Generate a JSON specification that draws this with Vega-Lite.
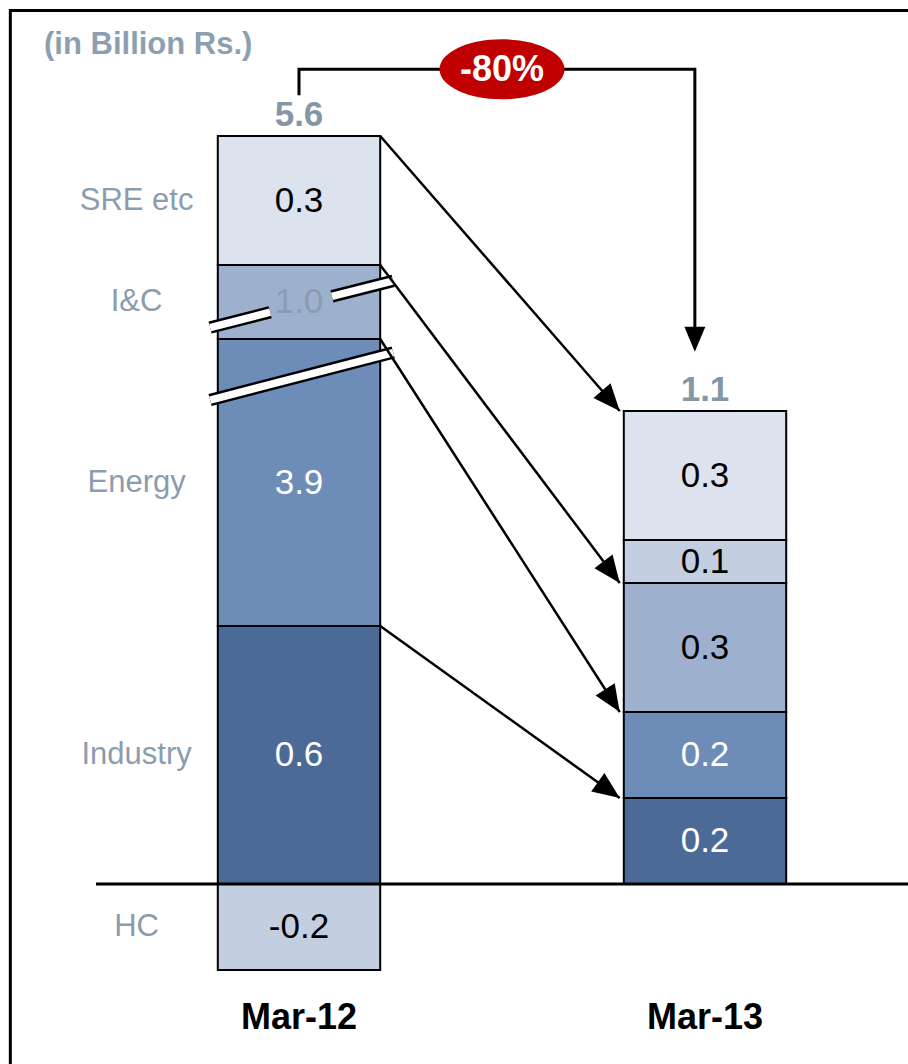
{
  "$schema": "https://vega.github.io/schema/vega-lite/v6.json",
  "width": 908,
  "height": 1064,
  "padding": 0,
  "autosize": {"type": "none"},
  "background": "white",
  "config": {"view": {"stroke": null}, "font": "Liberation Sans", "axis": {"disable": true}},
  "datasets": {
    "segments": [
      {"period": "Mar-12", "fy": 2012, "category": "Industry", "value": 0.6},
      {"period": "Mar-12", "fy": 2012, "category": "Energy", "value": 3.9},
      {"period": "Mar-12", "fy": 2012, "category": "I&C", "value": 1.0},
      {"period": "Mar-12", "fy": 2012, "category": "HC", "value": -0.2},
      {"period": "Mar-12", "fy": 2012, "category": "SRE etc", "value": 0.3},
      {"period": "Mar-13", "fy": 2013, "category": "Industry", "value": 0.2},
      {"period": "Mar-13", "fy": 2013, "category": "Energy", "value": 0.2},
      {"period": "Mar-13", "fy": 2013, "category": "I&C", "value": 0.3},
      {"period": "Mar-13", "fy": 2013, "category": "HC", "value": 0.1},
      {"period": "Mar-13", "fy": 2013, "category": "SRE etc", "value": 0.3}
    ],
    "breaks": [
      {"x1": 2011.781, "x2": 2011.929, "y1": 4.655, "y2": 4.862},
      {"x1": 2012.081, "x2": 2012.232, "y1": 5.076, "y2": 5.286},
      {"x1": 2011.781, "x2": 2012.232, "y1": 1.619, "y2": 3.862}
    ],
    "bracket": [
      {"step": 1, "x": 2012, "y": 5.895},
      {"step": 2, "x": 2012, "y": 5.955},
      {"step": 3, "x": 2012.975, "y": 5.955},
      {"step": 4, "x": 2012.975, "y": 4.3}
    ],
    "pointer": [{"x": 2012.975, "y": 3.9}],
    "badge": [{"x": 2012.5, "y": 5.955, "label": "-80%"}]
  },
  "layer": [
    {
      "data": {"values": [{}]},
      "mark": {"type": "rect", "fill": "transparent", "stroke": "black", "strokeWidth": 3},
      "encoding": {
        "x": {"datum": 2011.289, "type": "quantitative", "axis": null},
        "x2": {"datum": 2014},
        "y": {"datum": 6.092, "type": "quantitative", "axis": null},
        "y2": {"datum": -1}
      }
    },
    {
      "data": {"name": "segments"},
      "transform": [
        {"calculate": "indexof(['Industry','Energy','I&C','HC','SRE etc'], datum.category)", "as": "rank"},
        {"stack": "value", "groupby": ["fy"], "sort": [{"field": "rank", "order": "ascending"}], "as": ["v0", "v1"]},
        {"calculate": "datum.fy - 0.2", "as": "left"},
        {"calculate": "datum.fy + 0.2", "as": "right"}
      ],
      "mark": {"type": "rect", "stroke": "black", "strokeWidth": 2},
      "encoding": {
        "x": {"field": "left", "type": "quantitative", "scale": {"domain": [2011.5, 2013.5], "range": [96, 908], "nice": false, "zero": false}, "axis": null},
        "x2": {"field": "right"},
        "y": {"field": "v0", "type": "quantitative", "scale": {"domain": [-0.4, 0, 1.1, 4.5, 5.5, 6.1], "range": [1056, 884, 411, 339, 265, 7], "nice": false, "zero": false}, "axis": null},
        "y2": {"field": "v1"},
        "color": {
          "field": "category",
          "type": "nominal",
          "scale": {"domain": ["SRE etc", "I&C", "Energy", "Industry", "HC"], "range": ["#DCE3EE", "#9DB0CE", "#6D8DB8", "#4B6A98", "#C4CEE1"]},
          "legend": null
        }
      }
    },
    {
      "data": {"name": "breaks"},
      "mark": {"type": "rule", "color": "black", "strokeWidth": 12.5, "strokeCap": "butt"},
      "encoding": {
        "x": {"field": "x1", "type": "quantitative", "axis": null},
        "x2": {"field": "x2"},
        "y": {"field": "y1", "type": "quantitative", "axis": null},
        "y2": {"field": "y2"}
      }
    },
    {
      "data": {"name": "breaks"},
      "mark": {"type": "rule", "color": "white", "strokeWidth": 7.5, "strokeCap": "butt"},
      "encoding": {
        "x": {"field": "x1", "type": "quantitative", "axis": null},
        "x2": {"field": "x2"},
        "y": {"field": "y1", "type": "quantitative", "axis": null},
        "y2": {"field": "y2"}
      }
    },
    {
      "data": {"name": "segments"},
      "transform": [
        {"calculate": "indexof(['Industry','Energy','I&C','HC','SRE etc'], datum.category)", "as": "rank"},
        {"stack": "value", "groupby": ["fy"], "sort": [{"field": "rank", "order": "ascending"}], "as": ["v0", "v1"]},
        {"calculate": "invert('y', (scale('y', datum.v0) + scale('y', datum.v1)) / 2)", "as": "mid"},
        {"calculate": "replace(format(datum.value, '.1f'), '\u2212', '-')", "as": "label"}
      ],
      "mark": {"type": "text", "fontSize": 35, "align": "center", "baseline": "middle"},
      "encoding": {
        "x": {"field": "fy", "type": "quantitative", "axis": null},
        "y": {"field": "mid", "type": "quantitative", "axis": null},
        "text": {"field": "label"},
        "color": {
          "condition": [
            {"test": "datum.category === 'Energy' || datum.category === 'Industry'", "value": "white"},
            {"test": "datum.category === 'I&C' && datum.fy === 2012", "value": "#8A9CAE"}
          ],
          "value": "black"
        }
      }
    },
    {
      "data": {"name": "segments"},
      "transform": [
        {"calculate": "indexof(['Industry','Energy','I&C','HC','SRE etc'], datum.category)", "as": "rank"},
        {"stack": "value", "groupby": ["fy"], "sort": [{"field": "rank", "order": "ascending"}], "as": ["v0", "v1"]},
        {"filter": "datum.category !== 'HC'"},
        {"calculate": "datum.fy === 2012 ? datum.v1 : null", "as": "top12"},
        {"calculate": "datum.fy === 2013 ? datum.v1 : null", "as": "top13"},
        {"aggregate": [{"op": "max", "field": "top12", "as": "from"}, {"op": "max", "field": "top13", "as": "to"}], "groupby": ["category"]}
      ],
      "layer": [
        {
          "mark": {"type": "rule", "color": "black", "strokeWidth": 2.5},
          "encoding": {
            "x": {"datum": 2012.2, "type": "quantitative", "axis": null},
            "x2": {"datum": 2012.79},
            "y": {"field": "from", "type": "quantitative", "axis": null},
            "y2": {"field": "to"}
          }
        },
        {
          "mark": {
            "type": "point",
            "shape": "M0,0 L-1,-0.42 L-1,0.42 Z",
            "filled": true,
            "color": "black",
            "opacity": 1,
            "strokeWidth": 0,
            "size": 2916,
            "angle": {"expr": "atan2(scale('y', datum.to) - scale('y', datum.from), scale('x', 2012.79) - scale('x', 2012.2)) * 180 / PI"}
          },
          "encoding": {
            "x": {"datum": 2012.79, "type": "quantitative", "axis": null},
            "y": {"field": "to", "type": "quantitative", "axis": null}
          }
        }
      ]
    },
    {
      "data": {"values": [{}]},
      "mark": {"type": "rule", "color": "black", "strokeWidth": 3},
      "encoding": {
        "x": {"datum": 2011.5, "type": "quantitative", "axis": null},
        "x2": {"datum": 2013.6},
        "y": {"datum": 0, "type": "quantitative", "axis": null}
      }
    },
    {
      "data": {"name": "segments"},
      "transform": [
        {"filter": "datum.fy === 2012"},
        {"calculate": "indexof(['Industry','Energy','I&C','HC','SRE etc'], datum.category)", "as": "rank"},
        {"stack": "value", "groupby": ["fy"], "sort": [{"field": "rank", "order": "ascending"}], "as": ["v0", "v1"]},
        {"calculate": "invert('y', (scale('y', datum.v0) + scale('y', datum.v1)) / 2)", "as": "mid"}
      ],
      "mark": {"type": "text", "fontSize": 31, "align": "center", "baseline": "middle", "color": "#8A9CAE"},
      "encoding": {
        "x": {"datum": 2011.6, "type": "quantitative", "axis": null},
        "y": {"field": "mid", "type": "quantitative", "axis": null},
        "text": {"field": "category"}
      }
    },
    {
      "data": {"name": "segments"},
      "transform": [
        {"joinaggregate": [{"op": "sum", "field": "value", "as": "total"}], "groupby": ["fy"]},
        {"filter": "datum.value > 0"},
        {"aggregate": [{"op": "sum", "field": "value", "as": "top"}, {"op": "max", "field": "total", "as": "total"}], "groupby": ["fy", "period"]}
      ],
      "layer": [
        {
          "mark": {"type": "text", "fontSize": 35, "fontWeight": "bold", "align": "center", "baseline": "alphabetic", "dy": -10, "color": "#8497A9"},
          "encoding": {
            "x": {"field": "fy", "type": "quantitative", "axis": null},
            "y": {"field": "top", "type": "quantitative", "axis": null},
            "text": {"field": "total", "type": "quantitative", "format": ".1f"}
          }
        },
        {
          "mark": {"type": "text", "fontSize": 36, "fontWeight": "bold", "align": "center", "baseline": "alphabetic", "color": "black"},
          "encoding": {
            "x": {"field": "fy", "type": "quantitative", "axis": null},
            "y": {"datum": -0.337, "type": "quantitative", "axis": null},
            "text": {"field": "period"}
          }
        }
      ]
    },
    {
      "data": {"values": [{}]},
      "mark": {"type": "text", "text": "(in Billion Rs.)", "fontSize": 31, "fontWeight": "bold", "align": "left", "baseline": "alphabetic", "color": "#8C9FB1"},
      "encoding": {
        "x": {"datum": 2011.372, "type": "quantitative", "axis": null},
        "y": {"datum": 5.99, "type": "quantitative", "axis": null}
      }
    },
    {
      "data": {"name": "bracket"},
      "mark": {"type": "line", "color": "black", "strokeWidth": 3, "strokeJoin": "miter", "strokeCap": "butt"},
      "encoding": {
        "x": {"field": "x", "type": "quantitative", "axis": null},
        "y": {"field": "y", "type": "quantitative", "axis": null},
        "order": {"field": "step", "type": "quantitative"}
      }
    },
    {
      "data": {"name": "pointer"},
      "mark": {"type": "point", "shape": "M0,0 L-1,-0.42 L-1,0.42 Z", "angle": 90, "filled": true, "color": "black", "opacity": 1, "strokeWidth": 0, "size": 2500},
      "encoding": {
        "x": {"field": "x", "type": "quantitative", "axis": null},
        "y": {"field": "y", "type": "quantitative", "axis": null}
      }
    },
    {
      "data": {"name": "badge"},
      "layer": [
        {
          "mark": {"type": "point", "shape": "M-1,0 A1,0.48 0 1,0 1,0 A1,0.48 0 1,0 -1,0 Z", "filled": true, "color": "#C00000", "opacity": 1, "strokeWidth": 0, "size": 15625},
          "encoding": {
            "x": {"field": "x", "type": "quantitative", "axis": null},
            "y": {"field": "y", "type": "quantitative", "axis": null}
          }
        },
        {
          "mark": {"type": "text", "fontSize": 36, "fontWeight": "bold", "align": "center", "baseline": "middle", "color": "white", "dy": 1},
          "encoding": {
            "x": {"field": "x", "type": "quantitative", "axis": null},
            "y": {"field": "y", "type": "quantitative", "axis": null},
            "text": {"field": "label"}
          }
        }
      ]
    }
  ]
}
